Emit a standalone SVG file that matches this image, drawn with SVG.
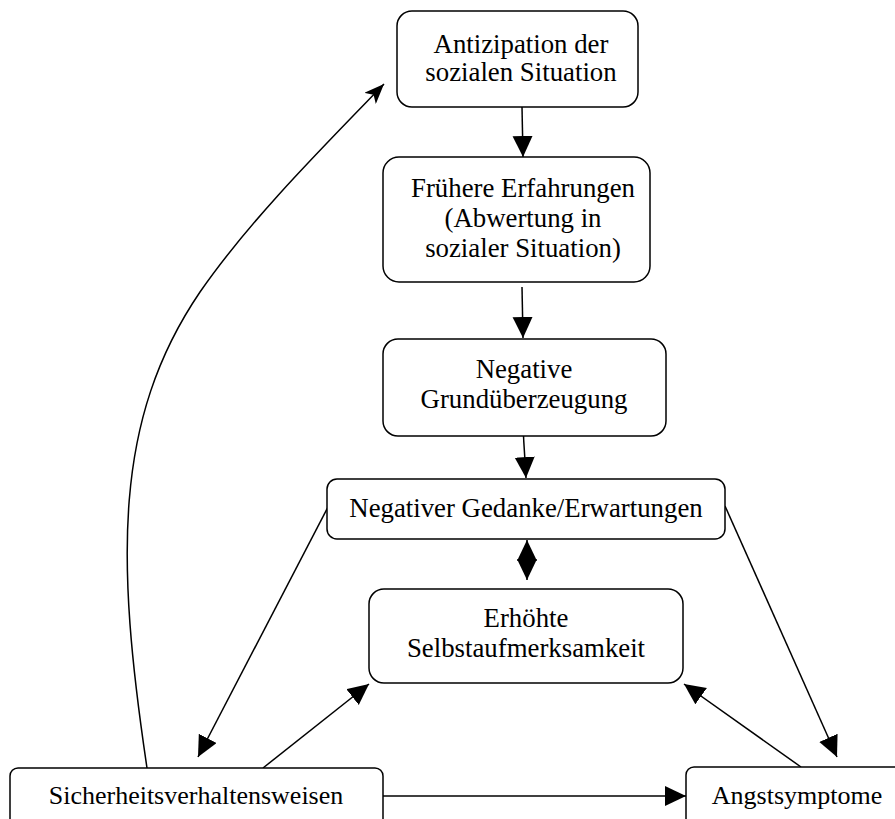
<svg xmlns="http://www.w3.org/2000/svg" width="895" height="819" viewBox="0 0 895 819">
<style>
.box{fill:#fff;stroke:#000;stroke-width:1.5}
.t{font-family:"Liberation Serif","Times New Roman",serif;font-size:26.8px;fill:#000;text-anchor:middle}
.s{font-size:26px}
.c{fill:none;stroke:#000;stroke-width:1.5}
</style>
<defs>
<marker id="ah" markerUnits="userSpaceOnUse" markerWidth="22" markerHeight="22" refX="21" refY="10" orient="auto-start-reverse">
<path d="M0,0 L21,10 L0,20 z" fill="#000"/>
</marker>
<marker id="st" markerUnits="userSpaceOnUse" markerWidth="22" markerHeight="16" refX="20" refY="8" orient="auto">
<path d="M0,0 L20,8 L0,16 L5,8 z" fill="#000"/>
</marker>
</defs>
<rect width="895" height="819" fill="#fff"/>
<g id="connectors">
<path class="c" d="M522,107 L523,157" marker-end="url(#ah)"/>
<path class="c" d="M522,287 L523,338" marker-end="url(#ah)"/>
<path class="c" d="M523,428 L526,478" marker-end="url(#ah)"/>
<path class="c" d="M527,540 L527,580" marker-start="url(#ah)" marker-end="url(#ah)"/>
<path class="c" d="M328,507 L198,757" marker-end="url(#ah)"/>
<path class="c" d="M725,506 L837,757" marker-end="url(#ah)"/>
<path class="c" d="M263,768 L369,684" marker-end="url(#ah)"/>
<path class="c" d="M801,767 L684,684" marker-end="url(#ah)"/>
<path class="c" d="M383,796 L686,796" marker-end="url(#ah)"/>
<path class="c" d="M147,768 C116,560 113,420 200,292 C250,220 320,150 384,84" marker-end="url(#st)"/>
</g>
<g id="n1">
<rect class="box" x="397" y="11" width="241" height="96" rx="15"/>
<text class="t" x="521" y="53">Antizipation der</text>
<text class="t" x="521" y="81">sozialen Situation</text>
</g>
<g id="n2">
<rect class="box" x="383" y="157" width="267" height="125" rx="16"/>
<text class="t" x="523" y="197">Frühere Erfahrungen</text>
<text class="t" x="523" y="227">(Abwertung in</text>
<text class="t" x="523" y="257">sozialer Situation)</text>
</g>
<g id="n3">
<rect class="box" x="383" y="339" width="283" height="97" rx="15"/>
<text class="t" x="524" y="378">Negative</text>
<text class="t" x="524" y="408">Grundüberzeugung</text>
</g>
<g id="n4">
<rect class="box" x="327" y="479" width="398" height="60" rx="10"/>
<text class="t" x="526" y="517">Negativer Gedanke/Erwartungen</text>
</g>
<g id="n5">
<rect class="box" x="369" y="589" width="314" height="94" rx="15"/>
<text class="t" x="526" y="627">Erhöhte</text>
<text class="t" x="526" y="657">Selbstaufmerksamkeit</text>
</g>
<g id="n6">
<rect class="box" x="10" y="768" width="373" height="62" rx="8"/>
<text class="t s" x="196" y="804">Sicherheitsverhaltensweisen</text>
</g>
<g id="n7">
<rect class="box" x="686" y="767" width="230" height="62" rx="8"/>
<text class="t s" x="797" y="804">Angstsymptome</text>
</g>
</svg>
